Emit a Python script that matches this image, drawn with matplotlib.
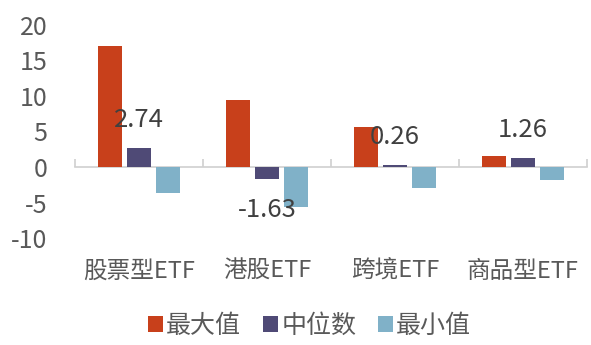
import matplotlib
matplotlib.use("Agg")
import matplotlib.pyplot as plt
import numpy as np
from matplotlib.transforms import blended_transform_factory

plt.rcParams['font.family'] = ['Noto Sans CJK SC', 'DejaVu Sans']

categories = ["股票型ETF", "港股ETF", "跨境ETF", "商品型ETF"]
series_names = ["最大值", "中位数", "最小值"]
max_vals = [17.0, 9.4, 5.6, 1.5]
median_vals = [2.74, -1.63, 0.26, 1.26]
min_vals = [-3.6, -5.6, -3.0, -1.8]
label_texts = ["2.74", "-1.63", "0.26", "1.26"]
label_y = [6.6, -6.1, 4.2, 5.2]
yticks = [-10, -5, 0, 5, 10, 15, 20]

colors = ["#C8401B", "#4F4A76", "#80B1C8"]
text_color = "#595959"

fig = plt.figure(figsize=(5.91, 3.45), dpi=100)
ax = fig.add_axes([0.127, 0.310, 0.866, 0.618])

x = np.arange(len(categories))
w = 0.19
offs = [-0.225, 0.0, 0.225]
for vals, off, c, name in zip([max_vals, median_vals, min_vals], offs, colors, series_names):
    ax.bar(x + off, vals, width=w, color=c, label=name, zorder=3)

for xi, t, yy in zip(x, label_texts, label_y):
    ax.text(xi, yy, t, ha='center', va='center', fontsize=18.5, color="#404040", zorder=4)

ax.set_xlim(-0.5, 3.5)
ax.set_ylim(-10, 20)
ax.set_yticks(yticks)
ax.set_yticklabels([str(v) for v in yticks], fontsize=18, color=text_color)
ax.tick_params(axis='y', length=0, pad=20)

for s in ['top', 'right', 'left']:
    ax.spines[s].set_visible(False)
ax.spines['bottom'].set_position(('data', 0))
ax.spines['bottom'].set_color("#D0D0D0")
ax.spines['bottom'].set_linewidth(1.2)
ax.set_xticks(np.arange(-0.5, 4.0, 1.0))
ax.set_xticklabels([])
ax.tick_params(axis='x', direction='in', length=6, color="#D0D0D0", width=1.2)

trans = blended_transform_factory(ax.transData, ax.transAxes)
for xi, c in zip(x, categories):
    ax.text(xi, -0.155, c, transform=trans, ha='center', va='center', fontsize=17, color=text_color)

leg = fig.legend(loc='center', bbox_to_anchor=(0.524, 0.055), ncol=3, frameon=False,
                 fontsize=18, handlelength=0.6, handleheight=0.6, handletextpad=0.12,
                 columnspacing=0.88)
for t in leg.get_texts():
    t.set_color(text_color)

fig.savefig("out.png", dpi=100, facecolor='white')
